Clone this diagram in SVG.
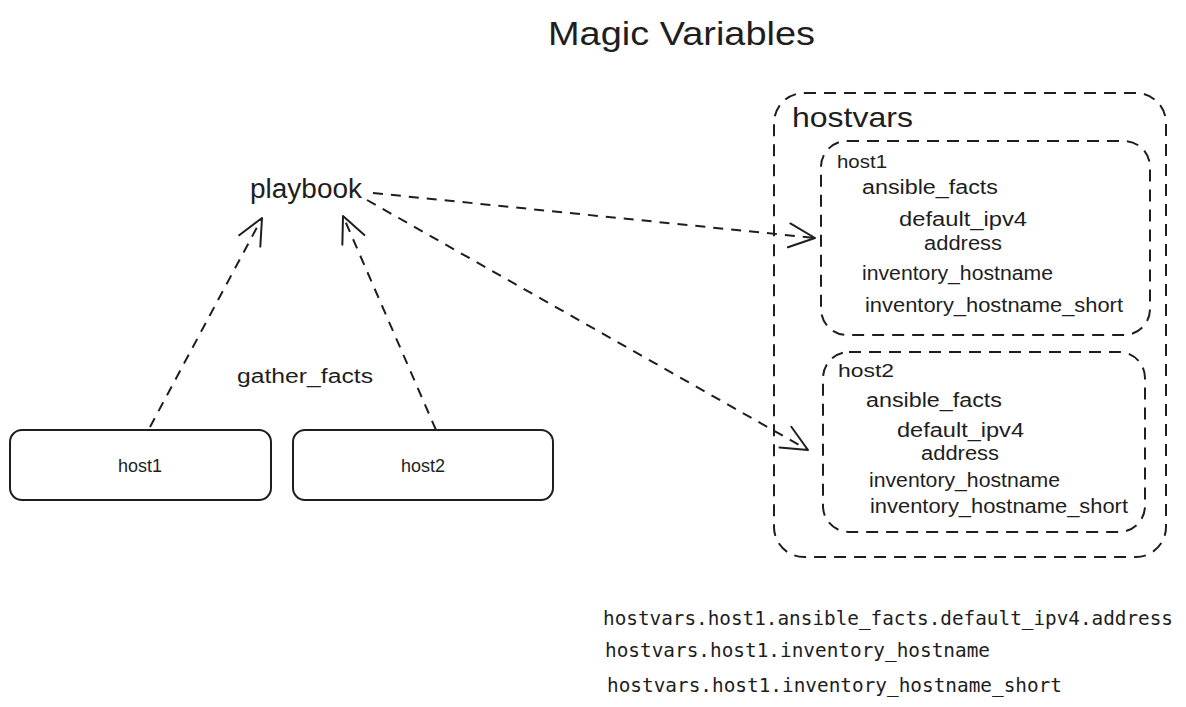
<svg xmlns="http://www.w3.org/2000/svg" width="1186" height="707" viewBox="0 0 1186 707">
<style>
.hand{font-family:"Liberation Sans","DejaVu Sans",sans-serif;fill:#1e1e1e}
.mono{font-family:"DejaVu Sans Mono","Liberation Mono",monospace;fill:#1e1e1e;font-size:19px}
.box{fill:#fff;stroke:#1e1e1e;stroke-width:2}
.dbox{fill:none;stroke:#1e1e1e;stroke-width:2;stroke-dasharray:12 8}
.conn{fill:none;stroke:#1e1e1e;stroke-width:2;stroke-dasharray:10 8}
</style>
<defs>
<marker id="arr" markerUnits="userSpaceOnUse" markerWidth="40" markerHeight="40" refX="30" refY="20" orient="auto" overflow="visible">
<path d="M4 8 L30 20 L4 32" fill="none" stroke="#1e1e1e" stroke-width="2" stroke-dasharray="none" stroke-linecap="round" stroke-linejoin="round"/>
</marker>
</defs>
<rect width="1186" height="707" fill="#fff"/>
<text class="hand" x="548" y="45" font-size="34" textLength="267" lengthAdjust="spacingAndGlyphs">Magic Variables</text>
<g id="playbook">
<text class="hand" x="250" y="198" font-size="27" textLength="112" lengthAdjust="spacingAndGlyphs">playbook</text>
</g>
<g id="host1">
<rect class="box" x="10" y="430" width="261" height="70" rx="12"/>
<text class="hand" x="140" y="472" font-size="18" text-anchor="middle">host1</text>
</g>
<g id="host2">
<rect class="box" x="293" y="430" width="260" height="70" rx="12"/>
<text class="hand" x="423" y="472" font-size="18" text-anchor="middle">host2</text>
</g>
<g id="gather_facts">
<text class="hand" x="237" y="383" font-size="20" textLength="136" lengthAdjust="spacingAndGlyphs">gather_facts</text>
</g>
<g id="hostvars">
<rect class="dbox" x="774" y="93" width="392" height="464" rx="30"/>
<text class="hand" x="792" y="127" font-size="28" textLength="121" lengthAdjust="spacingAndGlyphs">hostvars</text>
</g>
<g id="hostvars-host1">
<rect class="dbox" x="821" y="141" width="329" height="194" rx="26"/>
<text class="hand" x="837" y="168" font-size="19" textLength="50" lengthAdjust="spacingAndGlyphs">host1</text>
<text class="hand" x="862" y="194" font-size="20" textLength="136" lengthAdjust="spacingAndGlyphs">ansible_facts</text>
<text class="hand" x="899" y="226" font-size="20" textLength="128" lengthAdjust="spacingAndGlyphs">default_ipv4</text>
<text class="hand" x="963" y="250" font-size="20" text-anchor="middle" textLength="78" lengthAdjust="spacingAndGlyphs">address</text>
<text class="hand" x="862" y="280" font-size="20" textLength="191" lengthAdjust="spacingAndGlyphs">inventory_hostname</text>
<text class="hand" x="865" y="312" font-size="20" textLength="258" lengthAdjust="spacingAndGlyphs">inventory_hostname_short</text>
</g>
<g id="hostvars-host2">
<rect class="dbox" x="823" y="352" width="322" height="180" rx="26"/>
<text class="hand" x="838" y="377" font-size="19" textLength="56" lengthAdjust="spacingAndGlyphs">host2</text>
<text class="hand" x="866" y="407" font-size="20" textLength="136" lengthAdjust="spacingAndGlyphs">ansible_facts</text>
<text class="hand" x="897" y="437" font-size="20" textLength="127" lengthAdjust="spacingAndGlyphs">default_ipv4</text>
<text class="hand" x="960" y="460" font-size="20" text-anchor="middle" textLength="78" lengthAdjust="spacingAndGlyphs">address</text>
<text class="hand" x="869" y="487" font-size="20" textLength="191" lengthAdjust="spacingAndGlyphs">inventory_hostname</text>
<text class="hand" x="870" y="513" font-size="20" textLength="258" lengthAdjust="spacingAndGlyphs">inventory_hostname_short</text>
</g>
<g id="connectors">
<path class="conn" d="M150 427 L262 218" marker-end="url(#arr)"/>
<path class="conn" d="M436 430 L343 216" marker-end="url(#arr)"/>
<path class="conn" d="M373 193 L815 238" marker-end="url(#arr)"/>
<path class="conn" d="M367 200 L808 450" marker-end="url(#arr)"/>
</g>
<g id="notes">
<text class="mono" x="603" y="625" textLength="570" lengthAdjust="spacingAndGlyphs">hostvars.host1.ansible_facts.default_ipv4.address</text>
<text class="mono" x="605" y="657" textLength="385" lengthAdjust="spacingAndGlyphs">hostvars.host1.inventory_hostname</text>
<text class="mono" x="607" y="692" textLength="455" lengthAdjust="spacingAndGlyphs">hostvars.host1.inventory_hostname_short</text>
</g>
</svg>
